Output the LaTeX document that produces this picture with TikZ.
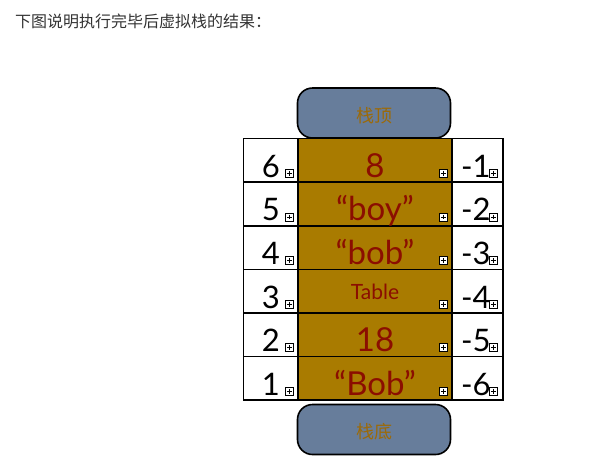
\documentclass[tikz,border=0pt]{standalone}
\usepackage{fontspec}
\setmainfont{Lato}
\newfontfamily\cjk{Noto Sans CJK SC}
\definecolor{cellgold}{HTML}{A97B00}
\definecolor{valred}{HTML}{8B0E00}
\definecolor{boxblue}{HTML}{677D9B}
\definecolor{boxtext}{HTML}{9C6A08}
\definecolor{headgray}{HTML}{333333}
\begin{document}
\begin{tikzpicture}[x=1pt,y=-1pt,
  cellbox/.style={draw=black, line width=1.6pt, minimum height=43.6pt, inner sep=0pt},
  whitecell/.style={cellbox, fill=white},
  goldcell/.style={cellbox, fill=cellgold},
  stackbox/.style={draw=black, line width=1.6pt, fill=boxblue, rounded corners=15pt,
    minimum width=153pt, minimum height=50pt, inner sep=0pt},
  boxlabel/.style={inner sep=0pt, text=boxtext, font=\cjk\fontsize{18}{18}\selectfont},
  bignum/.style={font=\fontsize{31}{31}\selectfont, inner sep=0pt},
  valtext/.style={font=\fontsize{33}{33}\selectfont, inner sep=0pt, text=valred},
  iconbox/.style={draw=black, fill=white, line width=0.7pt, minimum size=8pt, inner sep=0pt,
    path picture={\draw[line width=0.7pt]
      ([yshift=-1.6pt]path picture bounding box.north) -- ([yshift=1.6pt]path picture bounding box.south)
      ([xshift=1.6pt]path picture bounding box.west) -- ([xshift=-1.6pt]path picture bounding box.east);}}
]
\useasboundingbox (0,0) rectangle (590,467);
\node[anchor=west, inner sep=0pt, text=headgray, font=\cjk\fontsize{16}{16}\selectfont] (head) at (15,21) {下图说明执行完毕后虚拟栈的结果：};

\node[stackbox] (top) at (374,113) {};
\node[boxlabel] (toplab) at (374,115.5) {栈顶};
\node[stackbox] (bot) at (374,429.5) {};
\node[boxlabel] (botlab) at (374,432) {栈底};

\foreach \i/\lab/\rlab in {0/6/-1, 1/5/-2, 2/4/-3, 3/3/-4, 4/2/-5, 5/1/-6}{
  \pgfmathsetmacro{\cy}{160.3+43.6*\i}
  \node[whitecell, minimum width=54.5pt] (l\i) at (270.75,\cy) {};
  \node[goldcell, minimum width=154pt] (m\i) at (375,\cy) {};
  \node[whitecell, minimum width=51pt] (r\i) at (477.5,\cy) {};
  \node[bignum, anchor=base east] (lt\i) at (280,\cy+17) {\lab};
  \node[bignum, anchor=base west] (rt\i) at (461,\cy+17) {\rlab};
  \node[iconbox] (li\i) at (289.5,\cy+13) {};
  \node[iconbox] (mi\i) at (443.5,\cy+13) {};
  \node[iconbox] (ri\i) at (493.5,\cy+13) {};
}
\foreach \i/\val in {0/8, 1/“boy”, 2/“bob”, 4/18, 5/“Bob”}{
  \pgfmathsetmacro{\cy}{160.3+43.6*\i}
  \node[valtext, anchor=base] (mt\i) at (375,\cy+17) {\val};
}
\node[inner sep=0pt, anchor=base, text=valred, font=\fontsize{21}{21}\selectfont] (mt3) at (375,299) {Table};
\end{tikzpicture}
\end{document}
